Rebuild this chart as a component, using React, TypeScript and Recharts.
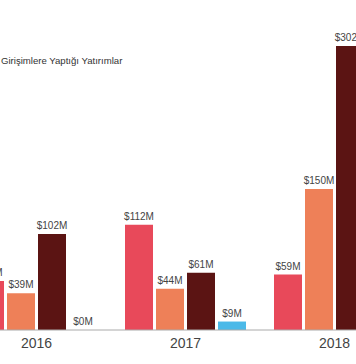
import { BarChart, Bar, XAxis, YAxis, LabelList } from 'recharts'

const years = ['2016', '2017', '2018']
const seriesA = [52, 112, 59]
const seriesB = [39, 44, 150]
const seriesC = [102, 61, 302]
const seriesD = [0, 9, null] // 2018 value is outside the visible crop

const data = years.map((y, i) => ({
  year: y,
  a: seriesA[i],
  b: seriesB[i],
  c: seriesC[i],
  d: seriesD[i],
}))

const font = '"Liberation Sans", Arial, Helvetica, sans-serif'

// draw value labels ourselves so zero-height bars still get "$0M"
const ValueLabel = (p: any) => {
  if (p.value == null) return null
  const x = Number(p.x) + Number(p.width) / 2
  const y = Math.min(Number(p.y), Number(p.y) + Number(p.height)) - 5
  return (
    <text x={x} y={y} textAnchor="middle" fontSize={10} fill="#444" fontFamily={font}>
      {`$${p.value}M`}
    </text>
  )
}

export default function App() {
  return (
    <div style={{ position: 'fixed', left: 0, top: 0, width: 356, height: 364, overflow: 'hidden', background: '#fff' }}>
      <div style={{ position: 'absolute', left: -38, top: 0 }}>
        <BarChart width={447} height={364} data={data} margin={{ top: 0, right: 0, left: 0, bottom: 0 }} barCategoryGap={14} barGap={3}>
          <XAxis
            dataKey="year"
            height={34}
            tickLine={false}
            axisLine={{ stroke: '#aaa' }}
            tick={{ fontSize: 14, fill: '#444', fontFamily: font }}
          />
          <YAxis hide domain={[0, 351]} />
          <Bar dataKey="a" fill="#E8495A" isAnimationActive={false}>
            <LabelList dataKey="a" content={ValueLabel} />
          </Bar>
          <Bar dataKey="b" fill="#EE8058" isAnimationActive={false}>
            <LabelList dataKey="b" content={ValueLabel} />
          </Bar>
          <Bar dataKey="c" fill="#5B1413" isAnimationActive={false}>
            <LabelList dataKey="c" content={ValueLabel} />
          </Bar>
          <Bar dataKey="d" fill="#4BB9E8" minPointSize={0.01} isAnimationActive={false}>
            <LabelList dataKey="d" content={ValueLabel} />
          </Bar>
        </BarChart>
      </div>
      <div style={{ position: 'absolute', left: 1, top: 55, zIndex: 1, fontSize: 9.6, color: '#333', fontFamily: font, whiteSpace: 'nowrap' }}>
        Girişimlere Yaptığı Yatırımlar
      </div>
    </div>
  )
}
